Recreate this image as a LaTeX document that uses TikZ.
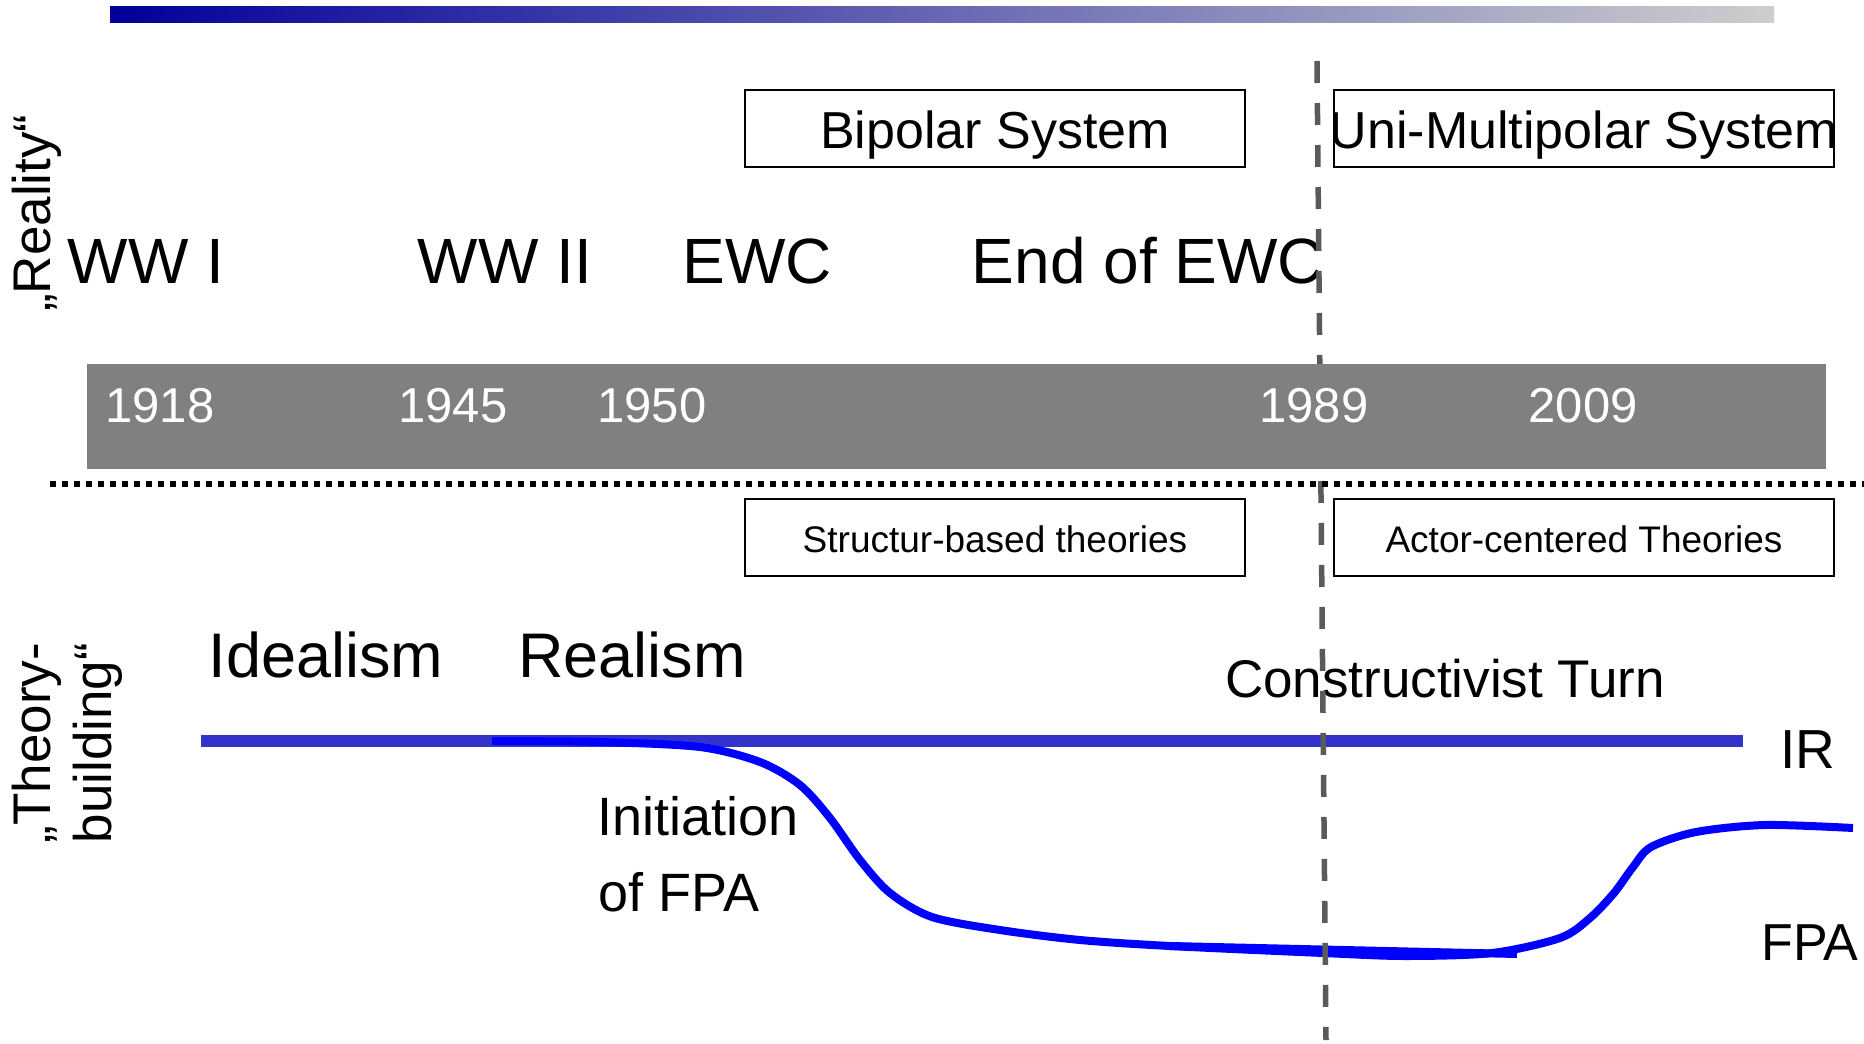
\documentclass[tikz,border=0pt]{standalone}
\usepackage{fontspec}
\setmainfont{Liberation Sans}
\definecolor{barblue}{RGB}{0,0,153}
\definecolor{barlight}{RGB}{206,206,206}
\definecolor{timegrey}{RGB}{128,128,128}
\definecolor{cutgrey}{RGB}{90,90,90}
\definecolor{irblue}{RGB}{51,51,204}
\definecolor{fpablue}{RGB}{0,0,255}

\begin{document}
\begin{tikzpicture}[x=1pt, y=-1pt,
        eventlabel/.style={anchor=base, inner sep=0pt, font=\fontsize{64}{70}\selectfont},
        yearlabel/.style={anchor=base, inner sep=0pt, text=white, font=\fontsize{49}{54}\selectfont},
        schoollabel/.style={anchor=base, inner sep=0pt, font=\fontsize{63}{70}\selectfont},
        curvelabel/.style={anchor=base, inner sep=0pt, font=\fontsize{54}{60}\selectfont},
        sidelabel/.style={rotate=90, anchor=base, inner sep=0pt, font=\fontsize{53}{60}\selectfont},
        sysbox/.style={draw, line width=2pt, minimum width=500pt, minimum height=77pt, inner sep=0pt,
            text height=45pt, text depth=6pt, font=\fontsize{52}{60}\selectfont},
        theorybox/.style={draw, line width=2pt, minimum width=500pt, minimum height=77pt, inner sep=0pt,
            text height=33pt, text depth=4pt, font=\fontsize{37}{42}\selectfont},
        cutline/.style={cutgrey, line width=5.5pt, dash pattern=on 22pt off 20pt},
        irline/.style={irblue, line width=12pt},
        fpaline/.style={fpablue, line width=8pt}]
        \useasboundingbox (0,0) rectangle (1864,1044);

        % top bar
        \shade[left color=barblue, right color=barlight] (110,6) rectangle (1774,22);

        % "reality"
        \node[sidelabel] (reality) at (50,213) {„Reality“};
        \node[eventlabel] (ww1) at (146,283) {WW I};
        \node[eventlabel] (ww2) at (505,283) {WW II};
        \node[eventlabel] (ewc) at (757,283) {EWC};
        \node[eventlabel] (endewc) at (1148,283) {End of EWC};

        % "theory-building"
        \node[sidelabel] (theoryA) at (50,743) {„Theory-};
        \node[sidelabel] (theoryB) at (111,743) {building“};
        \node[schoollabel] (idealism) at (326,677) {Idealism};
        \node[schoollabel] (realism) at (632,677) {Realism};
        \node[curvelabel, font=\fontsize{53}{60}\selectfont] (construct) at (1445,697) {Constructivist Turn};
        \node[curvelabel, anchor=base west] (initA) at (597,835) {Initiation};
        \node[curvelabel, anchor=base west] (initB) at (598,911) {of FPA};
        \node[curvelabel, font=\fontsize{55}{60}\selectfont] (irlabel) at (1808,768) {IR};
        \node[curvelabel, font=\fontsize{52}{60}\selectfont] (fpalabel) at (1810,960) {FPA};

        % IR and FPA
        \coordinate (irstart) at (201,741);
        \coordinate (irend) at (1743,741);
        \draw[irline] (irstart) -- (irend);
        \draw[fpaline] plot[smooth, tension=0.5] coordinates {(492,741) (600,742) (700,747)
            (760,762) (800,785) (830,818) (860,860) (890,893) (932,917) (1000,930) (1080,940)
            (1170,946) (1323,953) (1405,956) (1492,953) (1560,938) (1590,918) (1614,893)
            (1633,867) (1651,847) (1696,832) (1765,825) (1853,828)};
        \coordinate (flatA) at (1170,946);
        \coordinate (flatB) at (1517,954);
        \draw[fpaline] (flatA) -- (flatB);

        % 1989
        \coordinate (cuttop) at (1317,61);
        \coordinate (cutbottom) at (1326,1040);
        \draw[cutline] (cuttop) -- (cutbottom);

        % time axis
        \fill[timegrey] (87,364) rectangle (1826,469);
        \node[yearlabel] (y1918) at (160,422) {1918};
        \node[yearlabel] (y1945) at (453,422) {1945};
        \node[yearlabel] (y1950) at (652,422) {1950};
        \node[yearlabel] (y1989) at (1314,422) {1989};
        \node[yearlabel] (y2009) at (1583,422) {2009};

        \coordinate (dotstart) at (50,484);
        \coordinate (dotend) at (1864,484);
        \draw[line width=6pt, dash pattern=on 6pt off 6pt] (dotstart) -- (dotend);

        % systems and theories
        \node[sysbox] (bipolar) at (995,128.5) {Bipolar System};
        \node[sysbox] (unimulti) at (1584,128.5) {\makebox[0pt]{Uni-Multipolar System}};
        \node[theorybox] (structur) at (995,537.5) {Structur-based theories};
        \node[theorybox] (actor) at (1584,537.5) {Actor-centered Theories};

    \end{tikzpicture}
\end{document}
